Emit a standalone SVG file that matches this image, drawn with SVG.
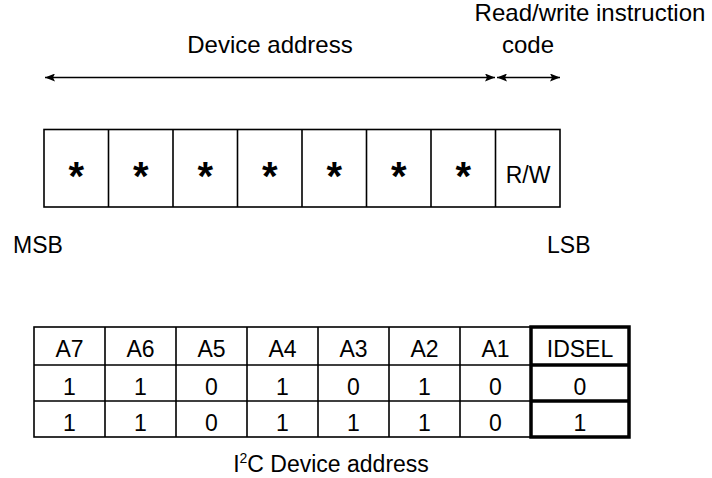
<svg xmlns="http://www.w3.org/2000/svg" width="712" height="478" viewBox="0 0 712 478">
<style>
text{font-family:"Liberation Sans",Arial,sans-serif;font-size:23px;fill:#000}
.c{text-anchor:middle}
.lab{font-size:24px}
.ast{font-size:40px;font-weight:bold}
.ln{stroke:#000;stroke-width:1.6;fill:none}
.thick{stroke:#000;stroke-width:3.5;fill:none}
</style>
<defs>
<marker id="ah" viewBox="0 0 10 8" refX="10" refY="4" markerWidth="10" markerHeight="8" markerUnits="userSpaceOnUse" orient="auto-start-reverse">
<path d="M0,0 L10,4 L0,8 L2,4 Z" fill="#000"/>
</marker>
</defs>
<g id="labels">
<text class="c lab" x="270" y="53">Device address</text>
<text class="c lab" x="590" y="21">Read/write instruction</text>
<text class="c lab" x="528" y="53">code</text>
<text x="13" y="253">MSB</text>
<text x="547" y="253">LSB</text>
</g>
<g id="connectors">
<line class="ln" x1="45" y1="77.5" x2="495" y2="77.5" marker-start="url(#ah)" marker-end="url(#ah)"/>
<line class="ln" x1="497" y1="77.5" x2="560" y2="77.5" marker-start="url(#ah)" marker-end="url(#ah)"/>
</g>
<g id="register">
<rect class="ln" x="44" y="129.5" width="516" height="77.5"/>
<path class="ln" d="M108.5,129.5V207M173,129.5V207M237.5,129.5V207M302,129.5V207M366.5,129.5V207M431,129.5V207M495.5,129.5V207"/>
<text class="c ast" x="76.25" y="190">*</text>
<text class="c ast" x="140.75" y="190">*</text>
<text class="c ast" x="205.25" y="190">*</text>
<text class="c ast" x="269.75" y="190">*</text>
<text class="c ast" x="334.25" y="190">*</text>
<text class="c ast" x="398.75" y="190">*</text>
<text class="c ast" x="463.25" y="190">*</text>
<text class="c" x="528" y="183">R/W</text>
</g>
<g id="table">
<rect class="ln" x="34" y="327" width="595" height="110"/>
<path class="ln" d="M34,365H531M34,401H531M105,327V437M176,327V437M247,327V437M318,327V437M389,327V437M460,327V437"/>
<rect class="thick" x="531" y="327" width="98" height="110"/>
<path class="thick" d="M531,365H629M531,401H629"/>
<text class="c" x="69.5" y="357">A7</text>
<text class="c" x="140.5" y="357">A6</text>
<text class="c" x="211.5" y="357">A5</text>
<text class="c" x="282.5" y="357">A4</text>
<text class="c" x="353.5" y="357">A3</text>
<text class="c" x="424.5" y="357">A2</text>
<text class="c" x="495.5" y="357">A1</text>
<text class="c" x="580" y="357">IDSEL</text>
<text class="c" x="69.5" y="395">1</text>
<text class="c" x="140.5" y="395">1</text>
<text class="c" x="211.5" y="395">0</text>
<text class="c" x="282.5" y="395">1</text>
<text class="c" x="353.5" y="395">0</text>
<text class="c" x="424.5" y="395">1</text>
<text class="c" x="495.5" y="395">0</text>
<text class="c" x="580" y="395">0</text>
<text class="c" x="69.5" y="431">1</text>
<text class="c" x="140.5" y="431">1</text>
<text class="c" x="211.5" y="431">0</text>
<text class="c" x="282.5" y="431">1</text>
<text class="c" x="353.5" y="431">1</text>
<text class="c" x="424.5" y="431">1</text>
<text class="c" x="495.5" y="431">0</text>
<text class="c" x="580" y="431">1</text>
<text class="c" x="331" y="472">I<tspan font-size="14" dy="-9">2</tspan><tspan dy="9">C Device address</tspan></text>
</g>
</svg>
